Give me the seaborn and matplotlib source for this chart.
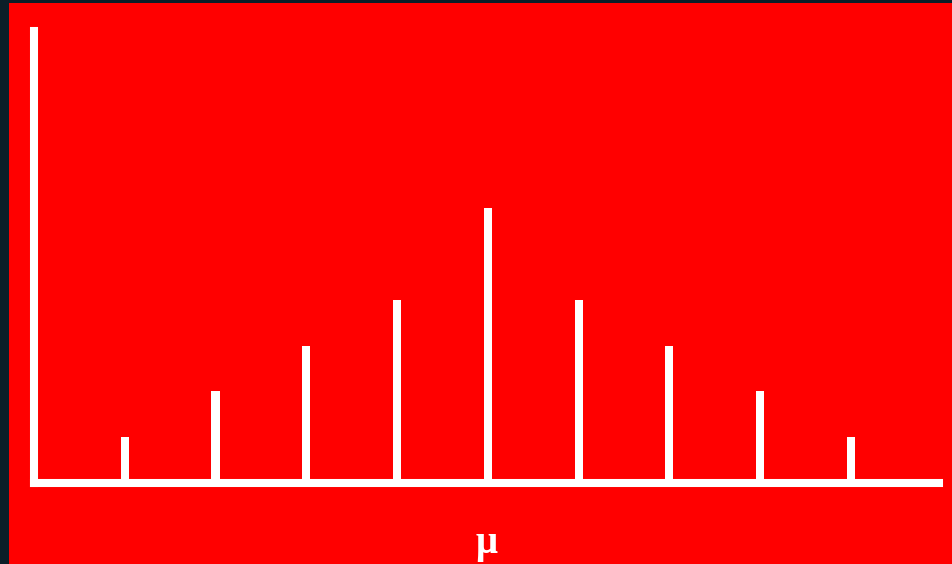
import matplotlib
matplotlib.use("Agg")
import matplotlib.pyplot as plt
import seaborn as sns
import pandas as pd
from matplotlib.patches import Rectangle

# Data
categories = ["1", "2", "3", "4", "5", "6", "7", "8", "9"]
values = [1, 2, 3, 4, 6, 4, 3, 2, 1]
x_label = "μ"

RED = "#ff0000"
DARK = "#0b1e28"

sns.set_style("white")
fig = plt.figure(figsize=(9.53, 5.64), dpi=100, facecolor=RED)

# dark frame on left and top
fig.patches.append(Rectangle((0, 0), 9 / 953, 1, transform=fig.transFigure,
                             facecolor=DARK, edgecolor="none", zorder=0))
fig.patches.append(Rectangle((0, 1 - 3 / 564), 1, 3 / 564, transform=fig.transFigure,
                             facecolor=DARK, edgecolor="none", zorder=0))

ax = fig.add_axes([34 / 953, 81 / 564, (939 - 34) / 953, (483 - 31) / 564])
ax.set_facecolor("none")

df = pd.DataFrame({"cat": categories, "val": values})
sns.barplot(data=df, x="cat", y="val", color="white", width=0.09,
            saturation=1, ax=ax, edgecolor="none")

ax.set_xlim(-1, 8.97)
ax.set_ylim(0, 9.87)

for s in ["top", "right"]:
    ax.spines[s].set_visible(False)
for s in ["left", "bottom"]:
    ax.spines[s].set_color("white")
    ax.spines[s].set_linewidth(5.8)
    ax.spines[s].set_capstyle("projecting")

ax.set_xticks([])
ax.set_yticks([])
ax.set_ylabel("")
ax.set_xlabel(x_label, color="white", fontsize=28, fontweight="bold",
              family=["Liberation Serif", "DejaVu Serif"], labelpad=30)

fig.savefig("out.png", dpi=100, facecolor=RED)
